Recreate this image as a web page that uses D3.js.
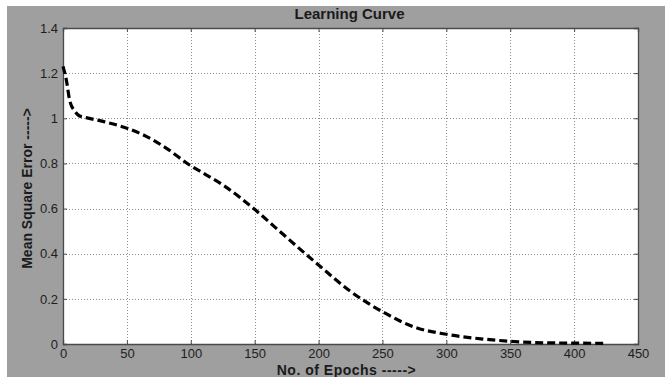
<!DOCTYPE html>
<html><head><meta charset="utf-8">
<script src="https://cdn.jsdelivr.net/npm/d3@7"></script>
<style>html,body{margin:0;padding:0;background:#fff;}svg{display:block;}</style>
</head><body>
<script>
const epochs = [0, 2.6, 5.2, 9.4, 13, 18, 32, 50, 63, 81, 99, 110, 125, 149, 172, 200, 225, 251, 275, 300, 327, 353, 379, 400, 423];
const mse    = [1.23, 1.17, 1.08, 1.03, 1.01, 1.003, 0.985, 0.956, 0.926, 0.867, 0.793, 0.756, 0.705, 0.601, 0.487, 0.350, 0.233, 0.140, 0.075, 0.043, 0.023, 0.011, 0.005, 0.004, 0.003];
const xTicks = [0, 50, 100, 150, 200, 250, 300, 350, 400, 450];
const yTicks = [0, 0.2, 0.4, 0.6, 0.8, 1, 1.2, 1.4];
const titleText = "Learning Curve";
const xLabelText = "No. of Epochs ----->";
const yLabelText = "Mean Square Error ----->";

const W = 665, H = 377;
const m = {left: 63, top: 28, right: 638, bottom: 344};
const svg = d3.select("body").append("svg").attr("width", W).attr("height", H);
svg.append("rect").attr("x", 7).attr("y", 6).attr("width", W - 7).attr("height", H - 6).attr("fill", "#9f9f9f");

const x = d3.scaleLinear().domain([0, 450]).range([m.left, m.right]);
const y = d3.scaleLinear().domain([0, 1.4]).range([m.bottom, m.top]);

svg.append("rect").attr("x", m.left).attr("y", m.top).attr("width", m.right - m.left).attr("height", m.bottom - m.top).attr("fill", "#fff");

const grid = svg.append("g").attr("stroke", "#8e8e8e").attr("stroke-width", 1).attr("stroke-dasharray", "1,2");
grid.selectAll("line.vx").data(xTicks.slice(1, -1)).enter().append("line")
  .attr("x1", d => Math.round(x(d)) + 0.5).attr("x2", d => Math.round(x(d)) + 0.5)
  .attr("y1", m.top).attr("y2", m.bottom);
grid.selectAll("line.hy").data(yTicks.slice(1, -1)).enter().append("line")
  .attr("y1", d => Math.round(y(d)) + 0.5).attr("y2", d => Math.round(y(d)) + 0.5)
  .attr("x1", m.left).attr("x2", m.right);

// axes
const fontFam = "'Liberation Sans', Arial, sans-serif";
const xAxis = svg.append("g").attr("transform", `translate(0,${m.bottom})`)
  .call(d3.axisBottom(x).tickValues(xTicks).tickSize(-4).tickPadding(5));
const yAxis = svg.append("g").attr("transform", `translate(${m.left},0)`)
  .call(d3.axisLeft(y).tickValues(yTicks).tickSize(-4).tickPadding(5).tickFormat(d => d3.format("~g")(d)));
svg.append("g").attr("transform", `translate(${m.right},0)`)
  .call(d3.axisRight(y).tickValues(yTicks).tickSize(-4).tickFormat(""));
svg.append("g").attr("transform", `translate(0,${m.top})`)
  .call(d3.axisTop(x).tickValues(xTicks).tickSize(-4).tickFormat(""));
svg.selectAll(".domain").attr("stroke", "#4a4a4a").attr("stroke-width", 1.3);
svg.selectAll(".tick line").attr("stroke", "#4a4a4a");
svg.selectAll(".tick text").attr("font-family", fontFam).attr("font-size", 13).attr("fill", "#1e1e1e");

// line
const data = epochs.map((e, i) => ({e, v: mse[i]}));
const line = d3.line().x(d => x(d.e)).y(d => y(d.v)).curve(d3.curveMonotoneX);
svg.append("path").datum(data).attr("d", line).attr("fill", "none")
  .attr("stroke", "#000").attr("stroke-width", 3.2).attr("stroke-dasharray", "8,4");

// texts
svg.append("text").attr("x", (m.left + m.right) / 2 - 1).attr("y", 18.5).attr("text-anchor", "middle")
  .attr("font-family", fontFam).attr("font-weight", "bold").attr("font-size", 15).attr("fill", "#1a1a1a").text(titleText);
svg.append("text").attr("x", 346.5).attr("y", 374.5).attr("text-anchor", "middle")
  .attr("font-family", fontFam).attr("font-weight", "bold").attr("font-size", 14).attr("letter-spacing", 0.5)
  .attr("fill", "#1a1a1a").text(xLabelText);
svg.append("text").attr("transform", `translate(32,188.5) rotate(-90)`).attr("text-anchor", "middle")
  .attr("font-family", fontFam).attr("font-weight", "bold").attr("font-size", 14).attr("fill", "#1a1a1a").text(yLabelText);
</script>
</body></html>
